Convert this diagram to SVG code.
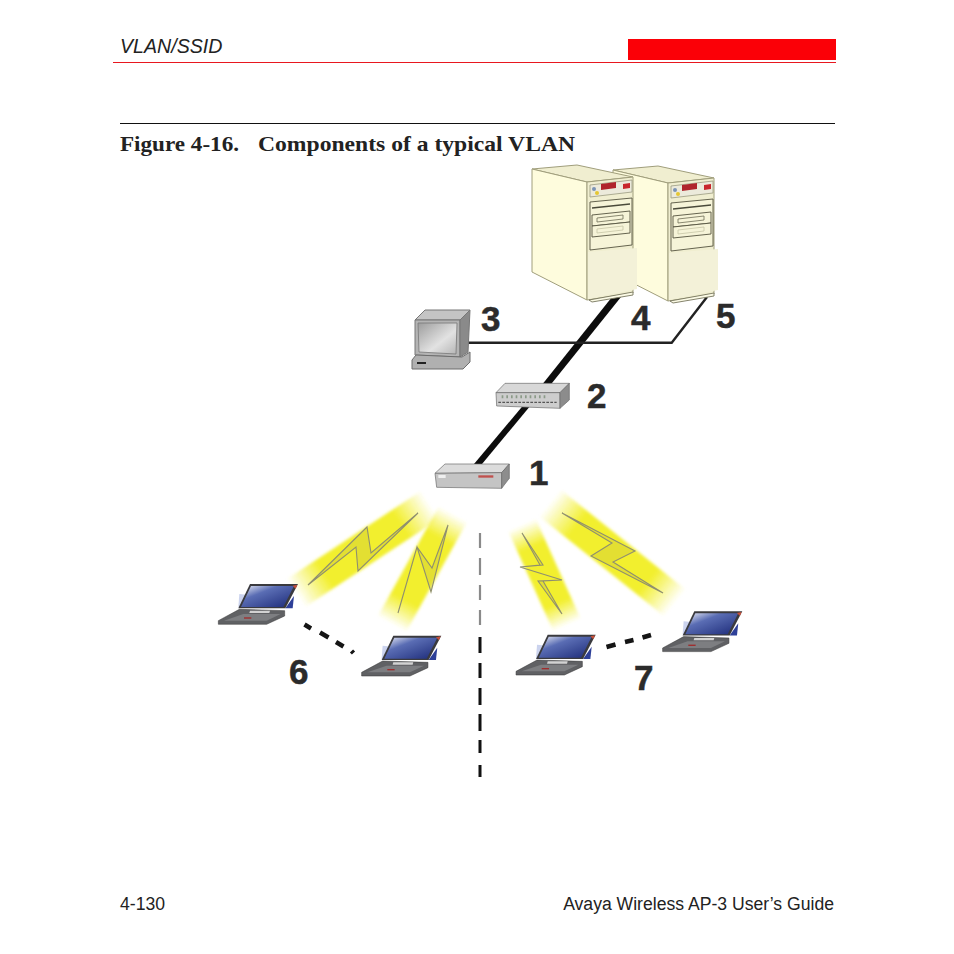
<svg xmlns="http://www.w3.org/2000/svg" width="954" height="954" viewBox="0 0 954 954">
<style>
.num{font-family:"Liberation Sans",Arial,sans-serif;font-weight:700;font-size:35px;fill:#2b2b2b;stroke:#2b2b2b;stroke-width:.5}
.sans{font-family:"Liberation Sans",Arial,sans-serif;font-size:17.600px;fill:#222}
.ital{font-family:"Liberation Sans",Arial,sans-serif;font-size:19.600px;font-style:italic;fill:#222}
.ttl{font-family:"Liberation Serif","Times New Roman",serif;font-weight:700;font-size:21px;fill:#222}
.case{fill:#fefcdd;stroke:#a09e7c;stroke-width:1}
.caseD{fill:#f0eed0;stroke:#a09e7c;stroke-width:1}
.low{fill:#f3f1d8}
.bay{fill:#f6f4d8;stroke:#55543f;stroke-width:.9}
.bolt{fill:#d3d035;fill-opacity:.5;stroke:#8f8f70;stroke-width:1.100}
.gd{stroke:#8a8a8a;stroke-width:2.200;fill:none}
.bd{stroke:#111;stroke-width:3;fill:none}
.dash{stroke:#151515;stroke-width:4.500;fill:none}
.wire{stroke:#222;stroke-width:2.400;fill:none;stroke-linejoin:miter}
.trunk{fill:#0c0c0c}
</style>
<defs>
<filter id="soft" x="-30%" y="-30%" width="160%" height="160%"><feGaussianBlur stdDeviation="1.800"/></filter>
<linearGradient id="bA" gradientUnits="userSpaceOnUse" x1="296" y1="593" x2="430" y2="505"><stop offset="0" stop-color="#f2ef2e" stop-opacity="0"/><stop offset=".22" stop-color="#f2ef2e"/><stop offset=".78" stop-color="#f2ef2e"/><stop offset="1" stop-color="#f2ef2e" stop-opacity="0"/></linearGradient>
<linearGradient id="bB" gradientUnits="userSpaceOnUse" x1="392" y1="624" x2="453" y2="514"><stop offset="0" stop-color="#f2ef2e" stop-opacity="0"/><stop offset=".22" stop-color="#f2ef2e"/><stop offset=".78" stop-color="#f2ef2e"/><stop offset="1" stop-color="#f2ef2e" stop-opacity="0"/></linearGradient>
<linearGradient id="bC" gradientUnits="userSpaceOnUse" x1="522" y1="525" x2="567" y2="625"><stop offset="0" stop-color="#f2ef2e" stop-opacity="0"/><stop offset=".22" stop-color="#f2ef2e"/><stop offset=".78" stop-color="#f2ef2e"/><stop offset="1" stop-color="#f2ef2e" stop-opacity="0"/></linearGradient>
<linearGradient id="bD" gradientUnits="userSpaceOnUse" x1="550" y1="503" x2="675" y2="603"><stop offset="0" stop-color="#f2ef2e" stop-opacity="0"/><stop offset=".22" stop-color="#f2ef2e"/><stop offset=".78" stop-color="#f2ef2e"/><stop offset="1" stop-color="#f2ef2e" stop-opacity="0"/></linearGradient>
<linearGradient id="scr" x1="0" y1="0" x2="1" y2="1"><stop offset="0" stop-color="#eef0f8"/><stop offset=".35" stop-color="#5a6db4"/><stop offset="1" stop-color="#1c2a78"/></linearGradient>
<linearGradient id="crt" x1="0" y1="0" x2="1" y2="1"><stop offset="0" stop-color="#9d9d9d"/><stop offset=".6" stop-color="#e2e2e2"/><stop offset="1" stop-color="#b5b5b5"/></linearGradient>
<g id="laptop">
<polygon points="88,312 118,315 100,352 85,352" fill="#a9b6e2" opacity=".6"/>
<polygon points="226,355 252,318 248,355" fill="#2d3f98"/>
<polygon points="85,355 120,282 264,282 226,355" fill="#3a3a3e"/>
<polygon points="93,351 123,288 252,288 220,351" fill="url(#scr)"/>
<polygon points="248,287 262,284 257,296" fill="#c8503a"/>
<polygon points="25,392 88,358 224,362 224,378 170,403 25,403" fill="#606164" stroke="#333" stroke-width="1.500"/>
<polygon points="120,362 180,362 178,369 118,369" fill="#d2d2d2"/>
<polygon points="42,392 100,372 212,372 170,392" fill="#7d7e81"/>
<rect x="102" y="382" width="22" height="4" fill="#a02c2c"/>
</g>
<g id="tower">
<polygon class="caseD" points="0,4 45,0 101,12 55,17"/>
<polygon class="case" points="0,4 55,17 55,135 0,107"/>
<polygon class="caseD" points="55,17 101,12 101,128 55,135"/>
<polygon points="56,87 105,83 105,124 56,134" class="low"/>
<polygon points="58,20 100,15 100,27 58,32" fill="#eceadb" stroke="#9a9a80" stroke-width=".8"/>
<polygon points="69,19 84,17 84,23 69,25" fill="#b0242c"/>
<polygon points="91,19 98,18 98,23 91,24" fill="#c8262c"/>
<circle cx="65" cy="28" r="2" fill="#e6c732"/><circle cx="62" cy="24" r="2" fill="#7b93b5"/>
<polygon class="bay" points="58,37 100,33 100,80 58,85"/>
<line x1="60" y1="43" x2="98" y2="39" stroke="#4a4a3a" stroke-width="1.600"/>
<polygon class="bay" points="60,50 98,46 98,57 60,61"/>
<polygon class="bay" points="60,61 98,57 98,68 60,72"/>
<polygon points="65,53 91,50 91,54 65,57" fill="none" stroke="#6d6c55" stroke-width=".8"/>
<polygon points="65,64 91,61 91,65 65,68" fill="none" stroke="#c6c5a6" stroke-width=".8"/>
<polygon points="57,135 101,127 101,130 60,137" fill="#fbfae5" stroke="#77765d" stroke-width=".9"/>
</g>
</defs>
<g id="page-header">
<text x="120" y="53" class="ital">VLAN/SSID</text>
<rect x="628" y="39" width="208" height="21" fill="#fb0007"/>
<line x1="113" y1="62.500" x2="836" y2="62.500" stroke="#e8171f" stroke-width="1"/>
<line x1="120" y1="123.500" x2="835" y2="123.500" stroke="#111" stroke-width="1"/>
<text x="120" y="151" class="ttl" textLength="119" lengthAdjust="spacingAndGlyphs">Figure 4-16.</text>
<text x="258" y="151" class="ttl" textLength="317" lengthAdjust="spacingAndGlyphs">Components of a typical VLAN</text>
</g>
<g id="beams">
<polygon points="287,579 305,607 439,519 421,491" fill="url(#bA)" filter="url(#soft)"/>
<polygon points="378,616 406,632 467,522 439,506" fill="url(#bB)" filter="url(#soft)"/>
<polygon points="508.500,531.600 535.500,518.400 580.500,618.400 553.500,631.600" fill="url(#bC)" filter="url(#soft)"/>
<polygon points="539,516 561,490 686,590 664,616" fill="url(#bD)" filter="url(#soft)"/>
<polygon class="bolt" points="308,585 356,547 358,571 418,513 371,553 367,527"/>
<polygon class="bolt" points="398,613 417,547 431,592 448,525 432,568 417,547"/>
<polygon class="bolt" points="522,533 543,565 520,567 562,580 538,581 562,614 543,581 562,580 520,567 540,565"/>
<polygon class="bolt" points="562,513 612,543 591,556 663,593 613,562 635,551"/>
</g>
<g id="connectors">
<polygon class="trunk" points="612,297 621,297 548,388 541,386"/>
<polygon class="trunk" points="526,402 531,405 482,464 474,464"/>
<polyline class="wire" points="468,342.700 671.700,342.700 707,297"/>
<path class="dash" d="M304.500 624.500L311 628.500M320 632.500L328.500 637.500M336 642L343.500 646.500M351.500 651L353.500 653"/>
<path class="dash" d="M606.500 647L615.500 644.500M625 642L633.500 640M642.500 637.500L651 635"/>
<path class="gd" d="M480 533V548M480 558V575M480 585V600M480 610V625"/>
<path class="bd" d="M480 637V653M480 663V678M480 688V705M480 714V731M480 740V753M480 765V777"/>
</g>
<g id="server-2"><use href="#tower" transform="translate(613,166)"/></g>
<g id="server-1"><use href="#tower" transform="translate(532,165)"/></g>
<g id="workstation">
<polygon points="415,320 425,310 470,310 460,320" fill="#c4c4c4" stroke="#777"/>
<polygon points="415,320 460,320 460,357 415,355" fill="#b4b4b4" stroke="#777"/>
<polygon points="418,323 457,323 456,354 419,352" fill="url(#crt)" stroke="#777" stroke-width=".8"/>
<polygon points="460,320 470,310 468,352 460,357" fill="#8a8a8a" stroke="#777"/>
<polygon points="412,360 416,355 462,357 470,352 470,362 463,369 412,369" fill="#b0b0b0" stroke="#6d6d6d"/>
<rect x="417" y="362" width="9" height="2" fill="#222"/>
</g>
<g id="switch" transform="translate(420,370) scale(.3333)">
<polygon points="228,68 255,40 448,40 420,68" fill="#d8d8d8" stroke="#666" stroke-width="2"/>
<polygon points="228,68 420,68 420,115 230,108" fill="#cdcdcd" stroke="#666" stroke-width="2"/>
<polygon points="420,68 448,40 448,90 420,115" fill="#8c8c8c" stroke="#666" stroke-width="2"/>
<path d="M245 80H385" stroke="#8b9a88" stroke-width="9" stroke-dasharray="5 9" fill="none"/>
<path d="M235 97H410" stroke="#555" stroke-width="4" stroke-dasharray="8 4" fill="none"/>
</g>
<g id="access-point" transform="translate(420,370) scale(.3333)">
<polygon points="45,310 75,282 268,282 245,308" fill="#dcdcdc" stroke="#666" stroke-width="2"/>
<polygon points="45,310 245,308 245,355 50,352" fill="#c4c4c4" stroke="#666" stroke-width="2"/>
<polygon points="245,308 268,282 268,325 245,355" fill="#8d8d8d" stroke="#666" stroke-width="2"/>
<rect x="55" y="315" width="22" height="9" fill="#efefef"/>
<rect x="175" y="316" width="45" height="7" fill="#c0504d"/>
</g>
<g id="laptop-1"><use href="#laptop" transform="translate(210,490) scale(.3333)"/></g>
<g id="laptop-2"><use href="#laptop" transform="translate(353.300,541.700) scale(.3333)"/></g>
<g id="laptop-3"><use href="#laptop" transform="translate(507.700,540.700) scale(.3333)"/></g>
<g id="laptop-4"><use href="#laptop" transform="translate(654.300,517.300) scale(.3333)"/></g>
<g id="labels">
<text class="num" x="481" y="331">3</text>
<text class="num" x="631" y="330">4</text>
<text class="num" x="716" y="328">5</text>
<text class="num" x="587" y="408">2</text>
<text class="num" x="529" y="485">1</text>
<text class="num" x="289" y="684">6</text>
<text class="num" x="634" y="690">7</text>
</g>
<g id="page-footer">
<text x="120" y="910" class="sans">4-130</text>
<text x="834" y="910" class="sans" text-anchor="end">Avaya Wireless AP-3 User’s Guide</text>
</g>
</svg>
